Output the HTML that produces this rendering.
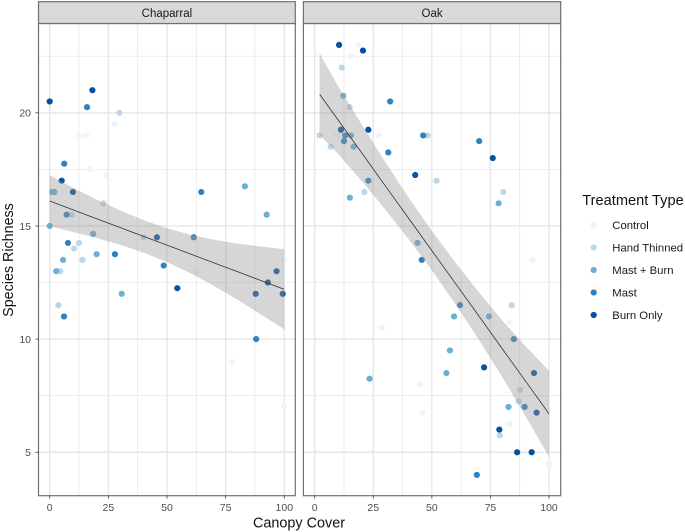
<!DOCTYPE html>
<html>
<head>
<meta charset="utf-8">
<style>
html,body{margin:0;padding:0;background:#fff;width:685px;height:532px;overflow:hidden}
svg{display:block;font-family:"Liberation Sans",sans-serif;filter:blur(0.3px)}
</style>
</head>
<body>
<svg id="chart" width="685" height="532" viewBox="0 0 685 532" xmlns="http://www.w3.org/2000/svg"></svg>
<script>
const panelNames = ['Chaparral', 'Oak'];
const treatmentNames = ['Control', 'Hand Thinned', 'Mast + Burn', 'Mast', 'Burn Only'];
const treatmentColors = ['#eff3ff', '#bdd7e7', '#6baed6', '#3182bd', '#08519c'];
const xTickLabels = [0, 25, 50, 75, 100];
const xMinorTicks = [12.5, 37.5, 62.5, 87.5];
const yTickLabels = [5, 10, 15, 20];
const yMinorTicks = [7.5, 12.5, 17.5, 22.5];

const chapControlX = [12.5, 15.6, 27.6, 17.2, 24.3, 77.6, 100, 100, 62.5];
const chapControlY = [19, 19, 19.5, 17.5, 17.25, 9, 7, 13.5, 13];
const chapHandX = [29.7, 22.9, 9.4, 40, 10.4, 12.5, 14, 4.5, 3.7];
const chapHandY = [20, 16, 15.5, 14.5, 14, 14.25, 13.5, 13, 11.5];
const chapMastBurnX = [1.1, 2, 18.5, 0, 5.7, 2.8, 20, 30.7, 83.2, 92.5];
const chapMastBurnY = [16.5, 16.5, 14.65, 15, 13.5, 13, 13.75, 12, 16.75, 15.5];
const chapMastX = [15.9, 6.2, 7.8, 27.8, 48.6, 64.6, 6.1, 88, 61.4, 7.2];
const chapMastY = [20.25, 17.75, 14.25, 13.75, 13.25, 16.5, 11, 10, 14.5, 15.5];
const chapBurnX = [0, 18.2, 5.1, 54.4, 9.9, 45.7, 96.7, 93, 87.8, 99.3];
const chapBurnY = [20.5, 21, 17, 12.25, 16.5, 14.5, 13, 12.5, 12, 12];

const oakControlX = [18.7, 15.6, 9.5, 27.3, 93, 28.7, 83.2, 44.9, 46, 83.2, 100];
const oakControlY = [23, 22.5, 19, 19, 13.5, 10.5, 10.75, 8, 6.75, 6.25, 4.5];
const oakHandX = [11.6, 14.9, 2.1, 6.8, 48.2, 52, 80.5, 21.2, 84.1, 79, 87.6, 87];
const oakHandY = [22, 20.25, 19, 18.5, 19, 17, 16.5, 16.5, 11.5, 5.75, 7.75, 7.25];
const oakMastBurnX = [12.2, 15.5, 16.6, 43.9, 74.4, 15, 78.5, 59.5, 57.7, 56.2, 23.4, 82.7];
const oakMastBurnY = [20.75, 19, 18.5, 14.25, 11, 16.25, 16, 11, 9.5, 8.5, 8.25, 7];
const oakMastX = [32.2, 46.3, 70.2, 31.4, 45.7, 69.2, 12.5, 13, 22.9, 62, 85, 89.6];
const oakMastY = [20.5, 19, 18.75, 18.25, 13.5, 4, 18.75, 19, 17, 11.5, 10, 7];
const oakBurnX = [10.4, 20.6, 22.9, 76, 42.9, 72.3, 78.8, 86.4, 92.6, 11.2, 93.6, 94.7];
const oakBurnY = [23, 22.75, 19.25, 18, 17.25, 8.75, 6, 5, 5, 19.25, 8.5, 6.75];

const chapBandX = [0, 10, 20, 30, 40, 50, 60, 70, 80, 90, 100];
const chapLine = [16.1, 15.71, 15.32, 14.93, 14.54, 14.15, 13.76, 13.37, 12.98, 12.59, 12.2];
const chapUpper = [17.23, 16.69, 16.17, 15.69, 15.26, 14.9, 14.61, 14.39, 14.22, 14.09, 13.97];
const chapLower = [15.0, 14.73, 14.47, 14.17, 13.82, 13.4, 12.91, 12.35, 11.74, 11.09, 10.43];

const oakBandX = [2.1, 10, 20, 30, 40, 50, 60, 70, 80, 90, 100];
const oakLine = [20.82, 19.68, 18.24, 16.79, 15.35, 13.91, 12.47, 11.03, 9.58, 8.14, 6.7];
const oakUpper = [22.62, 21.18, 19.5, 17.84, 16.27, 14.78, 13.39, 12.08, 10.83, 9.69, 8.6];
const oakLower = [19.03, 18.18, 16.99, 15.74, 14.43, 13.04, 11.55, 9.98, 8.33, 6.59, 4.8];

const chapX = [chapControlX, chapHandX, chapMastBurnX, chapMastX, chapBurnX];
const chapY = [chapControlY, chapHandY, chapMastBurnY, chapMastY, chapBurnY];
const oakX = [oakControlX, oakHandX, oakMastBurnX, oakMastX, oakBurnX];
const oakY = [oakControlY, oakHandY, oakMastBurnY, oakMastY, oakBurnY];

const svg = document.getElementById('chart');
const NS = 'http://www.w3.org/2000/svg';

function make(tag, attrs, name, text) {
  const el = document.createElementNS(NS, tag);
  for (const k in attrs) el.setAttribute(k, attrs[k]);
  
  
  if (text !== undefined) el.textContent = text;
  return el;
}

const panelTop = 23.5;
const panelBottom = 495.7;
const yScale = v => 565.4 - 22.63 * v;

function slug(s) {
  return s.toLowerCase().replace(/[^a-z]+/g, '-');
}

function drawPanel(name, left, right, x0, x100, xs, ys, bandX, line, upper, lower) {
  const xScale = v => x0 + (x100 - x0) * v / 100;
  const id = slug(name);
  const g = make('g', {}, id + '-panel');
  svg.appendChild(g);

  xMinorTicks.forEach(t => {
    g.appendChild(make('line', {x1: xScale(t), x2: xScale(t), y1: panelTop, y2: panelBottom, stroke: '#e8e8e8', 'stroke-width': 0.8}, id + '-x-minor-gridline'));
  });
  yMinorTicks.forEach(t => {
    g.appendChild(make('line', {x1: left, x2: right, y1: yScale(t), y2: yScale(t), stroke: '#e8e8e8', 'stroke-width': 0.8}, id + '-y-minor-gridline'));
  });
  xTickLabels.forEach(t => {
    g.appendChild(make('line', {x1: xScale(t), x2: xScale(t), y1: panelTop, y2: panelBottom, stroke: '#e6e6e6', 'stroke-width': 1.4}, id + '-x-major-gridline'));
  });
  yTickLabels.forEach(t => {
    g.appendChild(make('line', {x1: left, x2: right, y1: yScale(t), y2: yScale(t), stroke: '#e6e6e6', 'stroke-width': 1.4}, id + '-y-major-gridline'));
  });

  xs.forEach((arr, s) => {
    arr.forEach((v, i) => {
      g.appendChild(make('circle', {cx: xScale(v), cy: yScale(ys[s][i]), r: 3.1, fill: treatmentColors[s]}, id + '-point-' + slug(treatmentNames[s])));
    });
  });

  const top = bandX.map((v, i) => xScale(v) + ',' + yScale(upper[i]));
  const bottom = bandX.map((v, i) => xScale(v) + ',' + yScale(lower[i])).reverse();
  g.appendChild(make('polygon', {points: top.concat(bottom).join(' '), fill: '#999999', 'fill-opacity': 0.4}, id + '-confidence-band'));

  const linePts = bandX.map((v, i) => xScale(v) + ',' + yScale(line[i])).join(' ');
  g.appendChild(make('polyline', {points: linePts, fill: 'none', stroke: '#333333', 'stroke-width': 0.8}, id + '-trend-line'));

  g.appendChild(make('rect', {x: left, y: panelTop, width: right - left, height: panelBottom - panelTop, fill: 'none', stroke: '#707070', 'stroke-width': 1.2}, id + '-panel-border'));
  g.appendChild(make('rect', {x: left, y: 1.7, width: right - left, height: panelTop - 1.7, fill: '#d9d9d9', stroke: '#707070', 'stroke-width': 1.2}, id + '-strip'));
  g.appendChild(make('text', {x: (left + right) / 2, y: 17, 'text-anchor': 'middle', 'font-size': 11.5, fill: '#1a1a1a'}, id + '-strip-label', name));

  xTickLabels.forEach(t => {
    g.appendChild(make('line', {x1: xScale(t), x2: xScale(t), y1: panelBottom, y2: panelBottom + 3, stroke: '#444', 'stroke-width': 0.8}, id + '-x-tick'));
    g.appendChild(make('text', {x: xScale(t), y: 511, 'text-anchor': 'middle', 'font-size': 10.5, fill: '#4d4d4d'}, id + '-x-tick-label', t));
  });
}

drawPanel(panelNames[0], 38.5, 295.3, 49.7, 284.3, chapX, chapY, chapBandX, chapLine, chapUpper, chapLower);
drawPanel(panelNames[1], 303.4, 560.7, 314.7, 549, oakX, oakY, oakBandX, oakLine, oakUpper, oakLower);

yTickLabels.forEach(t => {
  svg.appendChild(make('line', {x1: 35.3, x2: 38.5, y1: yScale(t), y2: yScale(t), stroke: '#444', 'stroke-width': 0.8}, 'y-tick'));
  svg.appendChild(make('text', {x: 31, y: yScale(t) + 3.8, 'text-anchor': 'end', 'font-size': 10.5, fill: '#4d4d4d'}, 'y-tick-label', t));
});

svg.appendChild(make('text', {x: 299, y: 527.7, 'text-anchor': 'middle', 'font-size': 14.4, fill: '#111'}, 'x-axis-title', 'Canopy Cover'));
svg.appendChild(make('text', {x: 13, y: 260, 'text-anchor': 'middle', 'font-size': 14.3, fill: '#111', transform: 'rotate(-90 13 260)'}, 'y-axis-title', 'Species Richness'));

svg.appendChild(make('text', {x: 582.3, y: 205, 'font-size': 14.6, fill: '#111'}, 'legend-title', 'Treatment Type'));
treatmentNames.forEach((n, i) => {
  const cy = 225 + 22.5 * i;
  svg.appendChild(make('circle', {cx: 593.7, cy: cy, r: 3.1, fill: treatmentColors[i]}, 'legend-swatch-' + slug(n)));
  svg.appendChild(make('text', {x: 612.3, y: cy + 4.2, 'font-size': 11.3, fill: '#1a1a1a'}, 'legend-label-' + slug(n), n));
});
</script>
</body>
</html>
